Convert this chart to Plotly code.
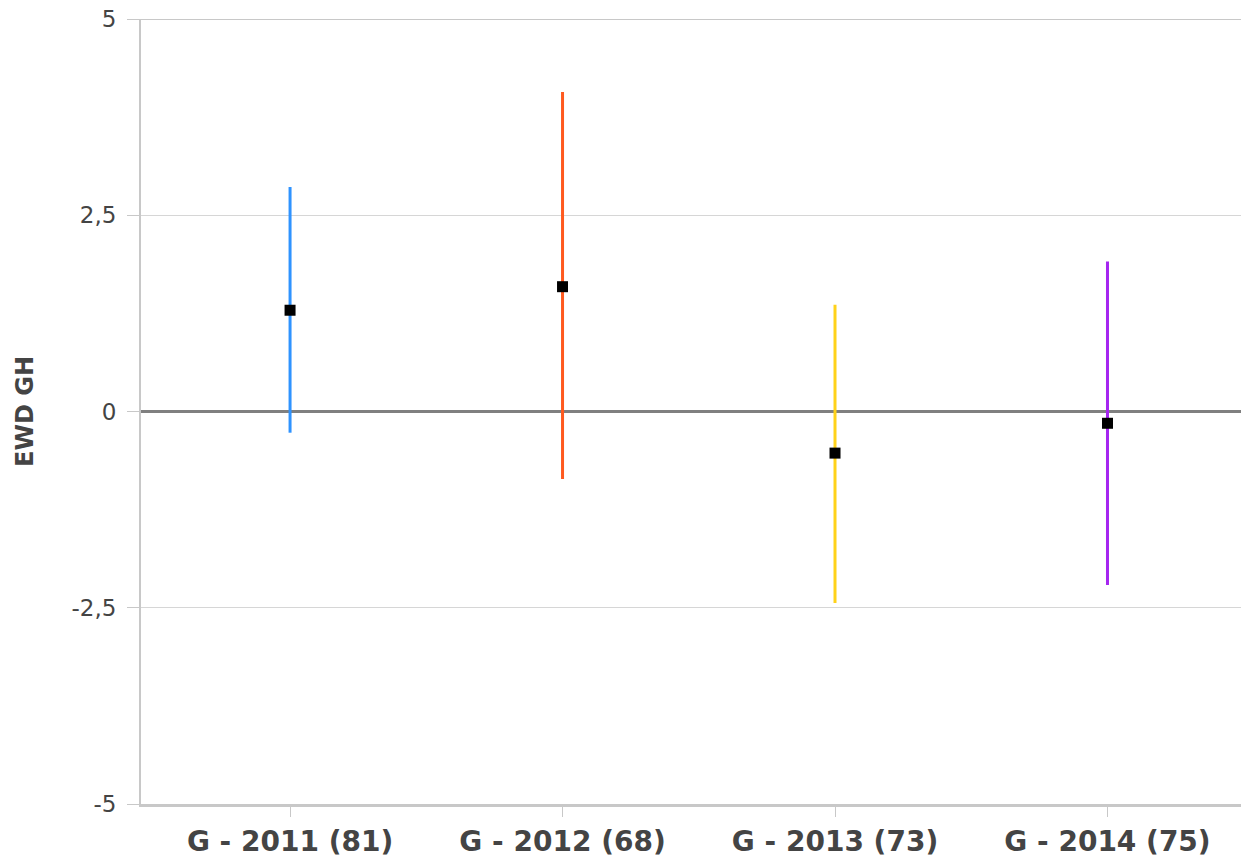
import plotly.graph_objects as go

categories = ["G - 2011 (81)", "G - 2012 (68)", "G - 2013 (73)", "G - 2014 (75)"]
means = [1.29, 1.59, -0.53, -0.15]
upper = [2.86, 4.07, 1.36, 1.91]
lower = [-0.27, -0.86, -2.44, -2.21]
colors = ["#2f93ff", "#ff5a1f", "#ffd21a", "#a526f0"]

ytick_vals = [5, 2.5, 0, -2.5, -5]
ytick_text = ["5", "2,5", "0", "-2,5", "-5"]

fig = go.Figure()
for i, cat in enumerate(categories):
    fig.add_trace(go.Scatter(
        x=[i], y=[means[i]],
        mode="markers",
        marker=dict(symbol="square", size=11, color="black"),
        error_y=dict(type="data", symmetric=False,
                     array=[upper[i] - means[i]],
                     arrayminus=[means[i] - lower[i]],
                     color=colors[i], thickness=3, width=0),
        showlegend=False,
        hoverinfo="skip",
    ))

# top border line at the max tick
fig.add_shape(type="line", xref="paper", x0=0, x1=1, yref="y",
              y0=ytick_vals[0], y1=ytick_vals[0],
              line=dict(color="#c8c8c8", width=2), layer="below")

fig.update_layout(
    width=1241, height=858,
    margin=dict(l=141, r=0, t=19, b=51),
    paper_bgcolor="white", plot_bgcolor="white",
    font=dict(family="DejaVu Sans", color="#444444"),
    xaxis=dict(
        range=[-0.547, 3.49],
        tickvals=list(range(len(categories))),
        ticktext=["<b>%s</b>" % c for c in categories],
        tickfont=dict(size=28, family="DejaVu Sans", color="#444444"),
        ticks="outside", ticklen=10, tickcolor="#c8c8c8", tickwidth=1,
        showgrid=False, zeroline=False,
        showline=True, linecolor="#c8c8c8", linewidth=3,
    ),
    yaxis=dict(
        range=[-5, 5],
        tickvals=ytick_vals, ticktext=ytick_text,
        tickfont=dict(size=23, color="#444444"),
        ticks="outside", ticklen=12, tickcolor="#c8c8c8", tickwidth=1,
        ticklabelstandoff=6,
        showgrid=True, gridcolor="#d6d6d6", gridwidth=1,
        zeroline=True, zerolinecolor="#808080", zerolinewidth=3,
        showline=True, linecolor="#c8c8c8", linewidth=2,
        title=dict(text="<b>EWD GH</b>", font=dict(size=24, color="#444444"), standoff=31),
    ),
)

fig.write_html("out.html", config={"displayModeBar": False},
               post_script="document.body.style.margin='0';")
